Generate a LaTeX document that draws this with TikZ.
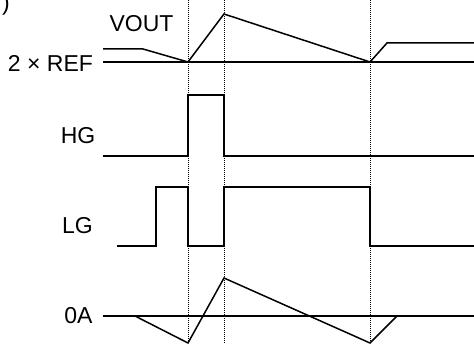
\documentclass[tikz,border=0pt]{standalone}
\usepackage{fontspec}
\setmainfont{Liberation Sans}
\usepackage{tikz}

\begin{document}
\begin{tikzpicture}[x=1pt,y=-1pt,
						wave/.style={draw=black, line width=1.5pt, line join=miter},
						timeline/.style={draw=black, line width=0.8pt, dash pattern=on 0.9pt off 1.1pt},
						siglabel/.style={inner sep=0pt, font=\fontsize{23}{27}\selectfont},
						]
						\useasboundingbox (0,0) rectangle (474,344);
						%Times
						\coordinate (t1) at (188,0);
						\coordinate (t2) at (224,0);
						\coordinate (t3) at (370,0);
						%Nodes
						\node[siglabel]      (paren) 	at	(6,5) 		{)};
						\node[siglabel]      (vout) 	at	(141.5,23.5) 	{VOUT};
						\node[siglabel]      (ref) 	at	(50.5,63.5) 	{2 × REF};
						\node[siglabel]      (hg) 	at	(78,135.5) 	{HG};
						\node[siglabel]      (lg) 	at	(77.5,226) 	{LG};
						\node[siglabel]      (zero) 	at	(78.5,315.5) 	{0A};

						%Lines
						\draw[timeline] (t1) -- ++(0,344);
						\draw[timeline] (t2) -- ++(0,344);
						\draw[timeline] (t3) -- ++(0,344);

						\draw[wave] (103,62) -- (474,62);
						\draw[wave] (103,49) -- (143,49) -- (188,62) -- (224,14) -- (370,62) -- (387,43) -- (474,43);

						\draw[wave] (103,156) -- (188,156) -- (188,95) -- (224,95) -- (224,156) -- (474,156);

						\draw[wave] (117,246) -- (156,246) -- (156,187) -- (188,187) -- (188,246) -- (224,246)
							-- (224,187) -- (370,187) -- (370,246) -- (474,246);

						\draw[wave] (103,316) -- (474,316);
						\draw[wave] (135,316) -- (188,343) -- (224,278) -- (370,343) -- (397,316);
					\end{tikzpicture}
\end{document}
